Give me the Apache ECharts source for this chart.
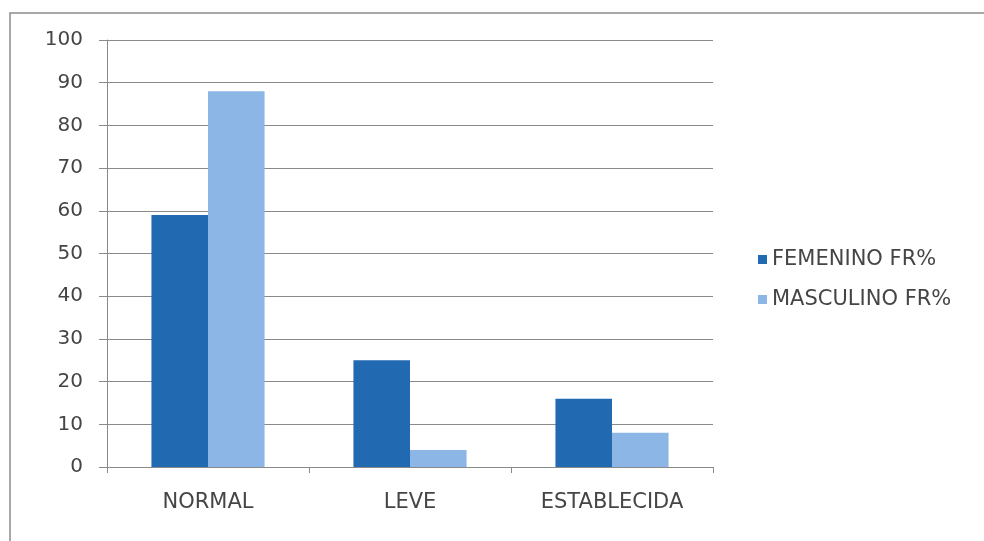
<!DOCTYPE html>
<html>
<head>
<meta charset="utf-8">
<script src="https://cdn.jsdelivr.net/npm/echarts@6/dist/echarts.min.js"></script>
<style>
  html, body { margin: 0; padding: 0; background: #ffffff; }
  #chart { width: 984px; height: 541px; }
</style>
</head>
<body>
<div id="chart"></div>
<script>
// Categories and series values (FR%)
const categories = ['NORMAL', 'LEVE', 'ESTABLECIDA'];
const femenino = [59, 25, 16];
const masculino = [88, 4, 8];
const seriesNames = ['FEMENINO FR%', 'MASCULINO FR%'];

const chart = echarts.init(document.getElementById('chart'), null, { renderer: 'canvas' });

const labelFont = { fontFamily: 'DejaVu Sans, sans-serif', color: '#454545' };

chart.setOption({
  animation: false,
  backgroundColor: '#ffffff',
  graphic: [{
    type: 'rect',
    shape: { x: 10, y: 13, width: 990, height: 540 },
    style: { fill: 'none', stroke: '#8c8c8c', lineWidth: 1.5 },
    silent: true
  }],
  grid: { left: 107, right: 271, top: 40, bottom: 74 },
  legend: {
    orient: 'vertical',
    left: 753,
    top: 244,
    itemWidth: 9,
    itemHeight: 9,
    itemGap: 19,
    icon: 'rect',
    textStyle: Object.assign({ fontSize: 21 }, labelFont),
    data: seriesNames
  },
  xAxis: {
    type: 'category',
    data: categories,
    axisLine: { lineStyle: { color: '#8a8a8a', width: 1 } },
    axisTick: { show: true, length: 6, alignWithLabel: false, lineStyle: { color: '#8a8a8a' } },
    axisLabel: Object.assign({ fontSize: 21, margin: 25 }, labelFont)
  },
  yAxis: {
    type: 'value',
    min: 0,
    max: 100,
    interval: 10,
    axisLine: { show: true, lineStyle: { color: '#8a8a8a', width: 1 } },
    axisTick: { show: true, length: 8, lineStyle: { color: '#8a8a8a' } },
    splitLine: { show: true, lineStyle: { color: '#8a8a8a', width: 1 } },
    axisLabel: Object.assign({ fontSize: 20, margin: 24 }, labelFont)
  },
  series: [
    {
      name: seriesNames[0],
      type: 'bar',
      data: femenino,
      barGap: '0%',
      barCategoryGap: '44%',
      itemStyle: { color: '#2169b0' }
    },
    {
      name: seriesNames[1],
      type: 'bar',
      data: masculino,
      itemStyle: { color: '#8cb6e6' }
    }
  ]
});
</script>
</body>
</html>
